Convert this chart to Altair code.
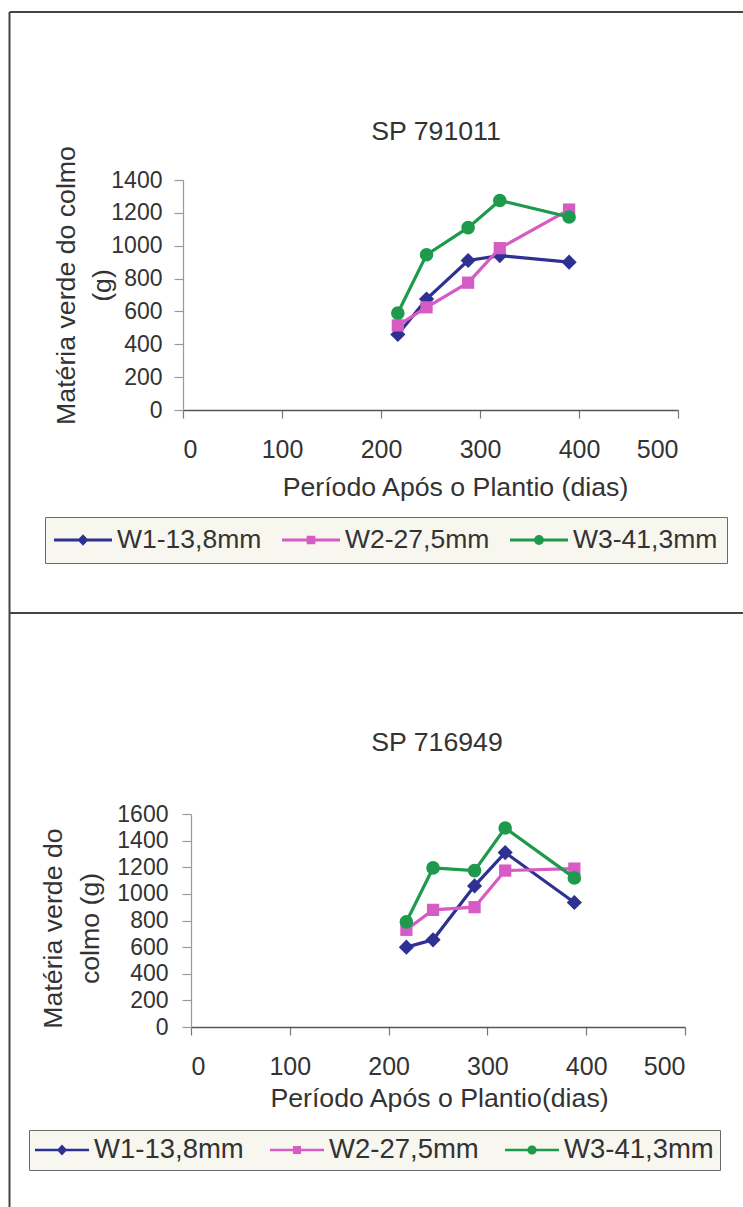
import altair as alt
import pandas as pd

# ---------------- data ----------------
series = ["W1-13,8mm", "W2-27,5mm", "W3-41,3mm"]
colors = ["#2e3192", "#d65bc4", "#1e9a4c"]
shapes = ["diamond", "square", "circle"]
marker_sizes = [230, 150, 185]

days_top = [217, 246, 288, 320, 390]
w1_top = [460, 675, 910, 940, 900]
w2_top = [515, 625, 775, 985, 1220]
w3_top = [590, 945, 1110, 1275, 1175]

days_bot = [218, 245, 287, 318, 388]
w1_bot = [600, 655, 1060, 1310, 935]
w2_bot = [730, 880, 900, 1175, 1190]
w3_bot = [790, 1195, 1175, 1495, 1120]

x_ticks = [0, 100, 200, 300, 400, 500]
y_ticks_top = [0, 200, 400, 600, 800, 1000, 1200, 1400]
y_ticks_bot = [0, 200, 400, 600, 800, 1000, 1200, 1400, 1600]

title_top = "SP 791011"
title_bot = "SP 716949"
xtitle_top = "Período Após o Plantio (dias)"
xtitle_bot = "Período Após o Plantio(dias)"
ytitle_top = ["Matéria verde do colmo", "(g)"]
ytitle_bot = ["Matéria verde do", "colmo (g)"]

FONT = "Liberation Sans"
TXT = "#333333"
TFS = 26.7
XLFS = 25
YLFS = 23
W, H = 743, 1207

# legend symbols: a line with the series marker in its middle (svg paths, [-1,1] box)
LINE = "M-1,-0.05L1,-0.05L1,0.05L-1,0.05Z "
leg_paths = [
    LINE + "M0,-0.2L0.19,0L0,0.2L-0.19,0Z",
    LINE + "M-0.15,-0.15L0.15,-0.15L0.15,0.15L-0.15,0.15Z",
    LINE + "M-0.17,0A0.17,0.17,0,1,1,0.17,0A0.17,0.17,0,1,1,-0.17,0Z",
]


def long_df(days, vals):
    rows = []
    for s, v in zip(series, vals):
        for d, y in zip(days, v):
            rows.append({"dias": d, "valor": y, "serie": s})
    return pd.DataFrame(rows)


one = pd.DataFrame({"k": [0]})


def text_at(txt, x, y):
    return alt.Chart(one).mark_text(
        text=txt, font=FONT, fontSize=TFS, color=TXT, align="center",
        baseline="middle").encode(x=alt.value(x), y=alt.value(y))


def panel(df, xr, yr, ydom, yvals, xtitle, xt, ytitle, yt, ylh, ylabpad, leg):
    x0, x1 = xr
    ybot, ytop = yr
    xs = alt.Scale(domain=[0, 500], range=xr, nice=False, zero=False)
    ys = alt.Scale(domain=ydom, range=yr, nice=False, zero=False)
    xax = alt.Axis(values=x_ticks, orient="bottom", offset=ybot - H, grid=False,
                   title=xtitle, titleX=xt[0], titleY=xt[1] - ybot,
                   titleAlign="center", titleBaseline="middle", titleAngle=0,
                   titleFont=FONT, titleFontSize=TFS, titleFontWeight="normal",
                   titleColor=TXT,
                   labelFont=FONT, labelFontSize=XLFS, labelColor=TXT,
                   labelPadding=19, domainColor="#555555", domainWidth=1.5,
                   tickColor="#777777", tickWidth=1.2, tickSize=8)
    yax = alt.Axis(values=yvals, orient="left", offset=-x0, grid=False, format="d",
                   title=ytitle, titleX=yt[0] - x0, titleY=yt[1],
                   titleAngle=270, titleAlign="center", titleBaseline="middle",
                   titleLineHeight=ylh, titleFont=FONT, titleFontSize=TFS,
                   titleFontWeight="normal", titleColor=TXT,
                   labelFont=FONT, labelFontSize=YLFS, labelColor=TXT,
                   labelPadding=ylabpad, domainColor="#9a9a9a", domainWidth=1.2,
                   tickColor="#9a9a9a", tickWidth=1.2, tickSize=9)
    X = alt.X("dias:Q", scale=xs, axis=xax)
    Y = alt.Y("valor:Q", scale=ys, axis=yax)
    layers = []
    for s, shp, col, ms in zip(series, shapes, colors, marker_sizes):
        sub = alt.Chart(df).transform_filter(alt.datum.serie == s)
        layers.append(sub.mark_line(strokeWidth=3.2, color=col).encode(x=X, y=Y))
        layers.append(sub.mark_point(shape=shp, filled=True, opacity=1, size=ms,
                                     color=col).encode(x=X, y=Y))
    legprops = dict(title=None, orient="none", legendX=leg["x"], legendY=leg["y"],
                    direction="horizontal", columns=3,
                    symbolSize=leg["sym"] ** 2, clipHeight=28,
                    symbolStrokeWidth=0, symbolOffset=0,
                    labelFont=FONT, labelFontSize=leg["fs"], labelColor=TXT,
                    labelOffset=5, labelLimit=400,
                    columnPadding=leg["cp"], padding=leg["pad"],
                    fillColor="#f7f7ef", strokeColor="#6a6a6a")
    # legend-only layer: no rows are drawn, the legend comes from its scales
    dummy = alt.Chart(df).transform_filter("false").mark_point(
        filled=True, opacity=1).encode(
        x=X, y=Y,
        color=alt.Color("serie:N", scale=alt.Scale(domain=series, range=colors),
                        legend=alt.Legend(**legprops)),
        shape=alt.Shape("serie:N", scale=alt.Scale(domain=series, range=leg_paths),
                        legend=alt.Legend(**legprops)),
    )
    layers.append(dummy)
    return alt.layer(*layers)


df_top = long_df(days_top, [w1_top, w2_top, w3_top])
df_bot = long_df(days_bot, [w1_bot, w2_bot, w3_bot])

top = panel(df_top, [183, 678], [410, 180], [0, 1400], y_ticks_top,
            xtitle_top, (455, 487), ytitle_top, (66, 285), 36, 12,
            dict(x=45, y=517, sym=58, fs=26.5, cp=20, pad=9))
bot = panel(df_bot, [191, 685], [1027, 814], [0, 1600], y_ticks_bot,
            xtitle_bot, (439, 1098), ytitle_bot, (53, 928), 37, 14,
            dict(x=29, y=1130, sym=54, fs=27.5, cp=26, pad=6))

frame_base = alt.Chart(one).mark_rule(color="#444444", strokeWidth=2)
deco = alt.layer(
    frame_base.encode(x=alt.value(9.5), y=alt.value(12), y2=alt.value(H)),
    frame_base.encode(x=alt.value(9.5), x2=alt.value(W), y=alt.value(12)),
    frame_base.encode(x=alt.value(9.5), x2=alt.value(W), y=alt.value(613)),
    text_at(title_top, 436, 132),
    text_at(title_bot, 437, 743),
)

chart = alt.layer(deco, top, bot).resolve_scale(
    x="independent", y="independent", color="independent", shape="independent"
).resolve_axis(x="independent", y="independent").resolve_legend(
    color="independent", shape="independent"
).properties(
    width=W, height=H, padding=0, background="white",
    autosize=alt.AutoSizeParams(type="none"),
).configure_view(stroke="transparent")

chart.save("out.html", embed_options={"renderer": "svg", "actions": False})
